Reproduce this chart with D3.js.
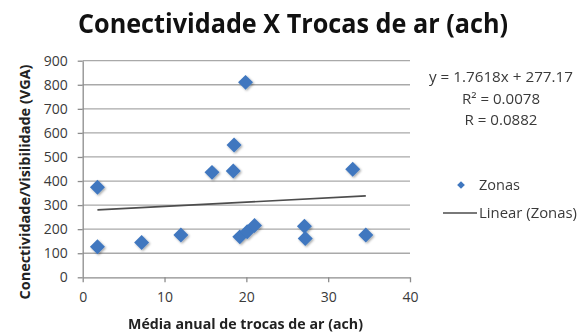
<!DOCTYPE html>
<html>
<head>
<meta charset="utf-8">
<script src="https://cdn.jsdelivr.net/npm/d3@7"></script>
<style>
  html, body { margin: 0; padding: 0; background: #fff; }
  svg { display: block; font-family: "Open Sans", "Liberation Sans", sans-serif; }
</style>
</head>
<body>
<svg id="chart" width="586" height="335"></svg>
<script>
// Air changes per hour (x) against connectivity/visibility (y) for each zone
const zoneAch = [1.8, 1.8, 7.2, 12.0, 15.8, 18.4, 18.5, 19.9, 19.2, 20.1, 21.0, 27.1, 27.2, 33.0, 34.6];
const zoneVga = [374, 127, 145, 176, 436, 442, 550, 810, 168, 189, 215, 212, 161, 449, 176];

const xTicks = [0, 10, 20, 30, 40];
const yTicks = [0, 100, 200, 300, 400, 500, 600, 700, 800, 900];

// Linear trendline as reported
const slope = 1.7618;
const intercept = 277.17;
const statLines = ["y = 1.7618x + 277.17", "R² = 0.0078", "R = 0.0882"];

const titleText = "Conectividade X Trocas de ar (ach)";
const xTitle = "Média anual de trocas de ar (ach)";
const yTitle = "Conectividade/Visibilidade (VGA)";
const legendLabels = ["Zonas", "Linear (Zonas)"];

const svg = d3.select("#chart");
const plotL = 82.7, plotR = 410, plotT = 60.7, plotB = 277.3;

const x = d3.scaleLinear().domain([0, 40]).range([plotL, plotR]);
const y = d3.scaleLinear().domain([0, 900]).range([plotB, plotT]);

const blue = "#3f77bf";
const gridCol = "#a9a9a9";
const textCol = "#3a3a3a";

// drop shadow for markers
const defs = svg.append("defs");
const f = defs.append("filter").attr("id", "shadow").attr("x", "-50%").attr("y", "-50%").attr("width", "200%").attr("height", "200%");
f.append("feDropShadow").attr("dx", 1.2).attr("dy", 1.2).attr("stdDeviation", 1).attr("flood-color", "#000").attr("flood-opacity", 0.35);

// horizontal gridlines
svg.append("g")
  .selectAll("line")
  .data(yTicks.filter(d => d > 0))
  .join("line")
  .attr("x1", plotL).attr("x2", plotR)
  .attr("y1", d => y(d)).attr("y2", d => y(d))
  .attr("stroke", gridCol).attr("stroke-width", 1.3);

// axes
const yAxis = svg.append("g")
  .attr("transform", `translate(${plotL},0)`)
  .call(d3.axisLeft(y).tickValues(yTicks).tickSize(5).tickPadding(10).tickSizeOuter(0));
const xAxis = svg.append("g")
  .attr("transform", `translate(0,${plotB})`)
  .call(d3.axisBottom(x).tickValues(xTicks).tickSize(5).tickPadding(10).tickSizeOuter(0));

[yAxis, xAxis].forEach(g => {
  g.select(".domain").attr("stroke", "#8c8c8c").attr("stroke-width", 1.3);
  g.selectAll(".tick line").attr("stroke", "#8c8c8c").attr("stroke-width", 1.3);
  g.selectAll(".tick text").attr("fill", textCol).attr("font-size", 14)
    .attr("font-family", "'Open Sans', sans-serif");
});

// trendline across the data range
const xr = d3.extent(zoneAch);
svg.append("line")
  .attr("x1", x(xr[0])).attr("y1", y(slope * xr[0] + intercept))
  .attr("x2", x(xr[1])).attr("y2", y(slope * xr[1] + intercept))
  .attr("stroke", "#4d4d4d").attr("stroke-width", 1.6);

// markers
const diamond = d3.symbol().type(d3.symbolSquare).size(112);
svg.append("g")
  .attr("filter", "url(#shadow)")
  .selectAll("path")
  .data(zoneAch.map((a, i) => [a, zoneVga[i]]))
  .join("path")
  .attr("d", diamond)
  .attr("transform", d => `translate(${x(d[0])},${y(d[1])}) rotate(45)`)
  .attr("fill", blue);

// title
svg.append("text")
  .attr("x", 293).attr("y", 33)
  .attr("text-anchor", "middle")
  .attr("font-size", 26).attr("font-weight", "bold")
  .attr("fill", "#111")
  .attr("textLength", 430).attr("lengthAdjust", "spacingAndGlyphs")
  .text(titleText);

// axis titles
svg.append("text")
  .attr("x", 245.5).attr("y", 329)
  .attr("text-anchor", "middle")
  .attr("font-size", 14).attr("font-weight", "bold")
  .attr("fill", "#222")
  .attr("textLength", 235).attr("lengthAdjust", "spacingAndGlyphs")
  .text(xTitle);

svg.append("text")
  .attr("transform", "translate(30,182) rotate(-90)")
  .attr("text-anchor", "middle")
  .attr("font-size", 14).attr("font-weight", "bold")
  .attr("fill", "#222")
  .attr("textLength", 235).attr("lengthAdjust", "spacingAndGlyphs")
  .text(yTitle);

// regression statistics
const statWidths = [144, 78, 73];
svg.append("g").selectAll("text")
  .data(statLines)
  .join("text")
  .attr("x", 501)
  .attr("y", (d, i) => 82 + i * 21.5)
  .attr("text-anchor", "middle")
  .attr("font-size", 14)
  .attr("fill", textCol)
  .attr("textLength", (d, i) => statWidths[i]).attr("lengthAdjust", "spacingAndGlyphs")
  .text(d => d);

// legend
const lg = svg.append("g");
lg.append("path")
  .attr("d", d3.symbol().type(d3.symbolSquare).size(30))
  .attr("transform", "translate(461,185) rotate(45)")
  .attr("fill", blue);
lg.append("line")
  .attr("x1", 443).attr("x2", 477).attr("y1", 213).attr("y2", 213)
  .attr("stroke", "#4d4d4d").attr("stroke-width", 1.6);
const legendWidths = [41, 98];
lg.selectAll("text")
  .data(legendLabels)
  .join("text")
  .attr("x", 479)
  .attr("y", (d, i) => 190 + i * 28)
  .attr("font-size", 14)
  .attr("fill", textCol)
  .attr("textLength", (d, i) => legendWidths[i]).attr("lengthAdjust", "spacingAndGlyphs")
  .text(d => d);
</script>
</body>
</html>
